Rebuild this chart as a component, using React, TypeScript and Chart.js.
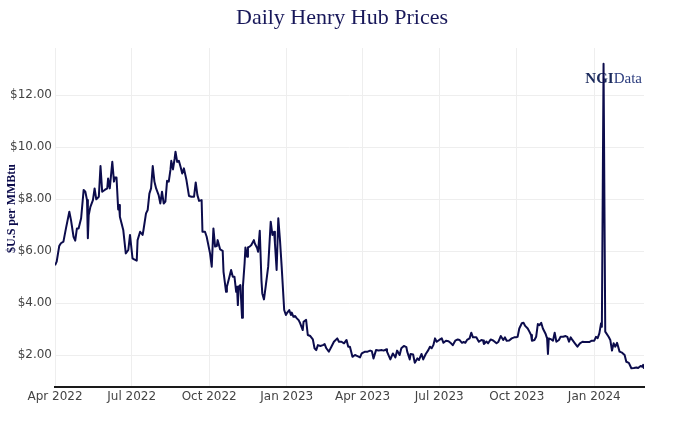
import React, { useEffect, useRef } from "react";
import { Chart, registerables } from "chart.js";

Chart.register(...registerables);

// Days counted from the first trading day shown (2022-04-01)
const START_DATE = "2022-04-01";
const dayOffsets = [
  0, 2, 5, 7, 10, 13, 17, 19, 22, 24,
  26, 28, 31, 34, 36, 38, 39, 40, 42, 45,
  47, 49, 52, 54, 56, 59, 62, 63, 65, 68,
  70, 71, 73, 75, 76, 77, 81, 84, 87, 89,
  92, 94, 97, 98, 101, 104, 105, 108, 110, 112,
  114, 116, 118, 120, 123, 125, 127, 129, 131, 133,
  135, 137, 138, 140, 142, 143, 145, 147, 149, 151,
  153, 156, 159, 162, 165, 167, 169, 171, 174, 175,
  178, 180, 184, 186, 188, 190, 192, 193, 196, 199,
  200, 203, 204, 207, 209, 211, 213, 215, 216, 217,
  218, 220, 222, 223, 225, 226, 228, 229, 231, 233,
  236, 237, 240, 241, 243, 245, 246, 248, 250, 253,
  256, 258, 260, 261, 263, 265, 267, 269, 272, 274,
  275, 278, 280, 281, 283, 285, 287, 289, 291, 294,
  295, 298, 300, 303, 306, 308, 310, 312, 315, 318,
  320, 322, 325, 328, 331, 335, 337, 340, 343, 346,
  348, 350, 353, 356, 359, 362, 364, 368, 371, 374,
  376, 378, 381, 384, 388, 390, 393, 394, 398, 401,
  404, 406, 409, 411, 414, 417, 418, 421, 422, 425,
  427, 430, 432, 435, 437, 440, 443, 445, 447, 449,
  451, 453, 456, 459, 461, 464, 467, 470, 472, 475,
  478, 480, 483, 485, 487, 489, 492, 494, 496, 500,
  503, 506, 508, 509, 512, 514, 517, 520, 524, 526,
  529, 532, 534, 536, 539, 542, 545, 547, 549, 551,
  554, 556, 558, 561, 563, 565, 566, 569, 571, 573,
  575, 577, 579, 582, 584, 585, 586, 589, 591, 593,
  595, 598, 600, 603, 606, 608, 610, 612, 614, 617,
  620, 623, 626, 628, 631, 634, 637, 640, 642, 644,
  646, 648, 649, 651, 653, 657, 659, 661, 663, 665,
  667, 670, 673, 676, 678, 681, 684, 687, 690, 692,
  695, 697, 698, 699,
];

const prices = [
  5.45, 5.59, 6.19, 6.30, 6.36, 6.87, 7.51, 7.19, 6.55, 6.40,
  6.87, 6.87, 7.26, 8.35, 8.28, 7.96, 6.49, 7.38, 7.70, 7.96,
  8.41, 7.99, 8.09, 9.27, 8.28, 8.35, 8.41, 8.79, 8.41, 9.43,
  8.67, 8.83, 8.83, 7.60, 7.77, 7.32, 6.81, 5.91, 6.04, 6.62,
  5.72, 5.68, 5.63, 6.42, 6.74, 6.62, 6.81, 7.45, 7.58, 8.21,
  8.41, 9.27, 8.67, 8.41, 8.15, 7.83, 8.28, 7.83, 7.90, 8.70,
  8.67, 9.12, 9.47, 9.14, 9.56, 9.82, 9.43, 9.47, 9.24, 8.98,
  9.18, 8.73, 8.12, 8.09, 8.09, 8.64, 8.15, 7.93, 7.96, 6.74,
  6.74, 6.55, 5.91, 5.40, 6.87, 6.17, 6.19, 6.42, 6.06, 6.01,
  5.20, 4.43, 4.63, 5.01, 5.27, 5.01, 5.01, 4.43, 4.63, 3.92,
  4.63, 4.69, 3.43, 4.63, 5.53, 6.14, 5.78, 6.14, 6.17, 6.23,
  6.42, 6.30, 6.10, 5.97, 6.78, 4.88, 4.37, 4.14, 4.63, 5.40,
  7.13, 6.62, 6.74, 6.30, 5.27, 7.26, 6.42, 5.40, 3.73, 3.54,
  3.60, 3.73, 3.54, 3.63, 3.47, 3.50, 3.41, 3.35, 3.22, 2.96,
  3.28, 3.35, 2.77, 2.73, 2.60, 2.26, 2.19, 2.38, 2.35, 2.38,
  2.42, 2.26, 2.13, 2.32, 2.51, 2.64, 2.51, 2.51, 2.45, 2.58,
  2.32, 2.32, 1.93, 2.00, 1.96, 1.91, 2.06, 2.13, 2.13, 2.17,
  2.15, 1.87, 2.19, 2.17, 2.19, 2.17, 2.22, 2.13, 1.83, 2.06,
  1.91, 2.17, 2.00, 2.26, 2.35, 2.30, 2.13, 1.83, 2.04, 2.02,
  1.70, 1.87, 1.81, 2.04, 1.83, 2.04, 2.19, 2.32, 2.26, 2.38,
  2.64, 2.51, 2.58, 2.64, 2.47, 2.55, 2.53, 2.45, 2.38, 2.55,
  2.60, 2.58, 2.47, 2.50, 2.47, 2.58, 2.64, 2.86, 2.68, 2.68,
  2.51, 2.58, 2.56, 2.42, 2.52, 2.45, 2.60, 2.56, 2.45, 2.50,
  2.73, 2.58, 2.68, 2.55, 2.56, 2.64, 2.68, 2.68, 2.70, 3.02,
  3.22, 3.24, 3.12, 3.02, 2.90, 2.77, 2.55, 2.58, 2.70, 3.19,
  3.15, 3.24, 3.02, 2.83, 2.64, 2.04, 2.64, 2.60, 2.55, 2.86,
  2.51, 2.58, 2.70, 2.70, 2.73, 2.70, 2.51, 2.68, 2.58, 2.45,
  2.32, 2.45, 2.51, 2.50, 2.50, 2.50, 2.55, 2.55, 2.70, 2.65,
  2.83, 3.22, 3.09, 13.20, 2.90, 2.70, 2.58, 2.17, 2.45, 2.32,
  2.47, 2.13, 2.09, 2.00, 1.74, 1.70, 1.49, 1.50, 1.52, 1.50,
  1.58, 1.55, 1.62, 1.47,
];

const xTickDays = [0, 91, 183, 275, 365, 456, 548, 640];
const xTickLabels = [
  "Apr 2022", "Jul 2022", "Oct 2022", "Jan 2023",
  "Apr 2023", "Jul 2023", "Oct 2023", "Jan 2024",
];
const yTickValues = [2, 4, 6, 8, 10, 12];
const Y_MIN = 0.77;
const Y_MAX = 13.81;

const TITLE = "Daily Henry Hub Prices";
const Y_TITLE = "$U.S per MMBtu";
const LOGO_BOLD = "NGI";
const LOGO_REG = "Data";

const NAVY = "#0c0c4c";

const decorPlugin = {
  id: "decor",
  beforeDatasetsDraw(chart: any) {
    const { ctx, chartArea } = chart;
    ctx.save();
    ctx.textBaseline = "alphabetic";
    ctx.font = "bold 15px 'Liberation Serif', serif";
    const wB = ctx.measureText(LOGO_BOLD).width;
    ctx.font = "15px 'Liberation Serif', serif";
    const wR = ctx.measureText(LOGO_REG).width;
    const right = chartArea.right - 2;
    const x0 = right - wB - wR;
    const y0 = chartArea.top + 35;
    ctx.fillStyle = "#1b2a5c";
    ctx.font = "bold 15px 'Liberation Serif', serif";
    ctx.fillText(LOGO_BOLD, x0, y0);
    ctx.fillStyle = "#2c3d7e";
    ctx.font = "15px 'Liberation Serif', serif";
    ctx.fillText(LOGO_REG, x0 + wB, y0);
    ctx.restore();
  },
  afterDraw(chart: any) {
    const { ctx, chartArea, width } = chart;
    ctx.save();
    ctx.fillStyle = "#18185a";
    ctx.font = "22px 'Liberation Serif', serif";
    ctx.textAlign = "center";
    ctx.textBaseline = "alphabetic";
    ctx.fillText(TITLE, width / 2, 24);
    ctx.translate(12, (chartArea.top + chartArea.bottom) / 2 - 9);
    ctx.rotate(-Math.PI / 2);
    ctx.font = "bold 12px 'Liberation Serif', serif";
    ctx.fillStyle = NAVY;
    ctx.textAlign = "center";
    ctx.textBaseline = "middle";
    ctx.fillText(Y_TITLE, 0, 0);
    ctx.restore();
  },
};

export default function App() {
  const canvasRef = useRef<HTMLCanvasElement | null>(null);

  useEffect(() => {
    if (!canvasRef.current) return;
    const points = dayOffsets.map((d, i) => ({ x: d, y: prices[i] }));
    const chart = new Chart(canvasRef.current, {
      type: "line",
      data: {
        datasets: [
          {
            label: "Henry Hub",
            data: points,
            borderColor: NAVY,
            borderWidth: 2,
            pointRadius: 0,
            tension: 0,
            borderJoinStyle: "round",
            fill: false,
          },
        ],
      },
      options: {
        animation: false,
        responsive: false,
        devicePixelRatio: 1,
        layout: { padding: { left: 0, right: 40, top: 48, bottom: 0 } },
        plugins: {
          legend: { display: false },
          tooltip: { enabled: false },
          title: { display: false },
        },
        scales: {
          x: {
            type: "linear",
            min: dayOffsets[0],
            max: dayOffsets[dayOffsets.length - 1],
            afterBuildTicks: (scale: any) => {
              scale.ticks = xTickDays.map((v) => ({ value: v }));
            },
            afterFit: (scale: any) => {
              scale.height = 40;
            },
            ticks: {
              autoSkip: false,
              maxRotation: 0,
              padding: 3,
              color: "#444",
              font: { family: "'DejaVu Sans', sans-serif", size: 12 },
              callback: (value: any) => {
                const i = xTickDays.indexOf(Number(value));
                return i >= 0 ? xTickLabels[i] : "";
              },
            },
            grid: { color: "#eeeeee", lineWidth: 1, drawTicks: false },
            border: { display: true, color: "#1a1a1a", width: 2 },
          },
          y: {
            type: "linear",
            min: Y_MIN,
            max: Y_MAX,
            afterBuildTicks: (scale: any) => {
              scale.ticks = yTickValues.map((v) => ({ value: v }));
            },
            afterFit: (scale: any) => {
              scale.width = 55;
            },
            ticks: {
              padding: 3,
              color: "#444",
              font: { family: "'DejaVu Sans', sans-serif", size: 12 },
              callback: (value: any) => "$" + Number(value).toFixed(2),
            },
            grid: { color: "#eeeeee", lineWidth: 1, drawTicks: false },
            border: { display: false },
          },
        },
      },
      plugins: [decorPlugin],
    });
    return () => chart.destroy();
  }, []);

  return (
    <div style={{ position: "fixed", left: 0, top: 0, width: 684, height: 427, background: "#fff" }}>
      <canvas ref={canvasRef} width={684} height={427} style={{ width: 684, height: 427 }} />
    </div>
  );
}
